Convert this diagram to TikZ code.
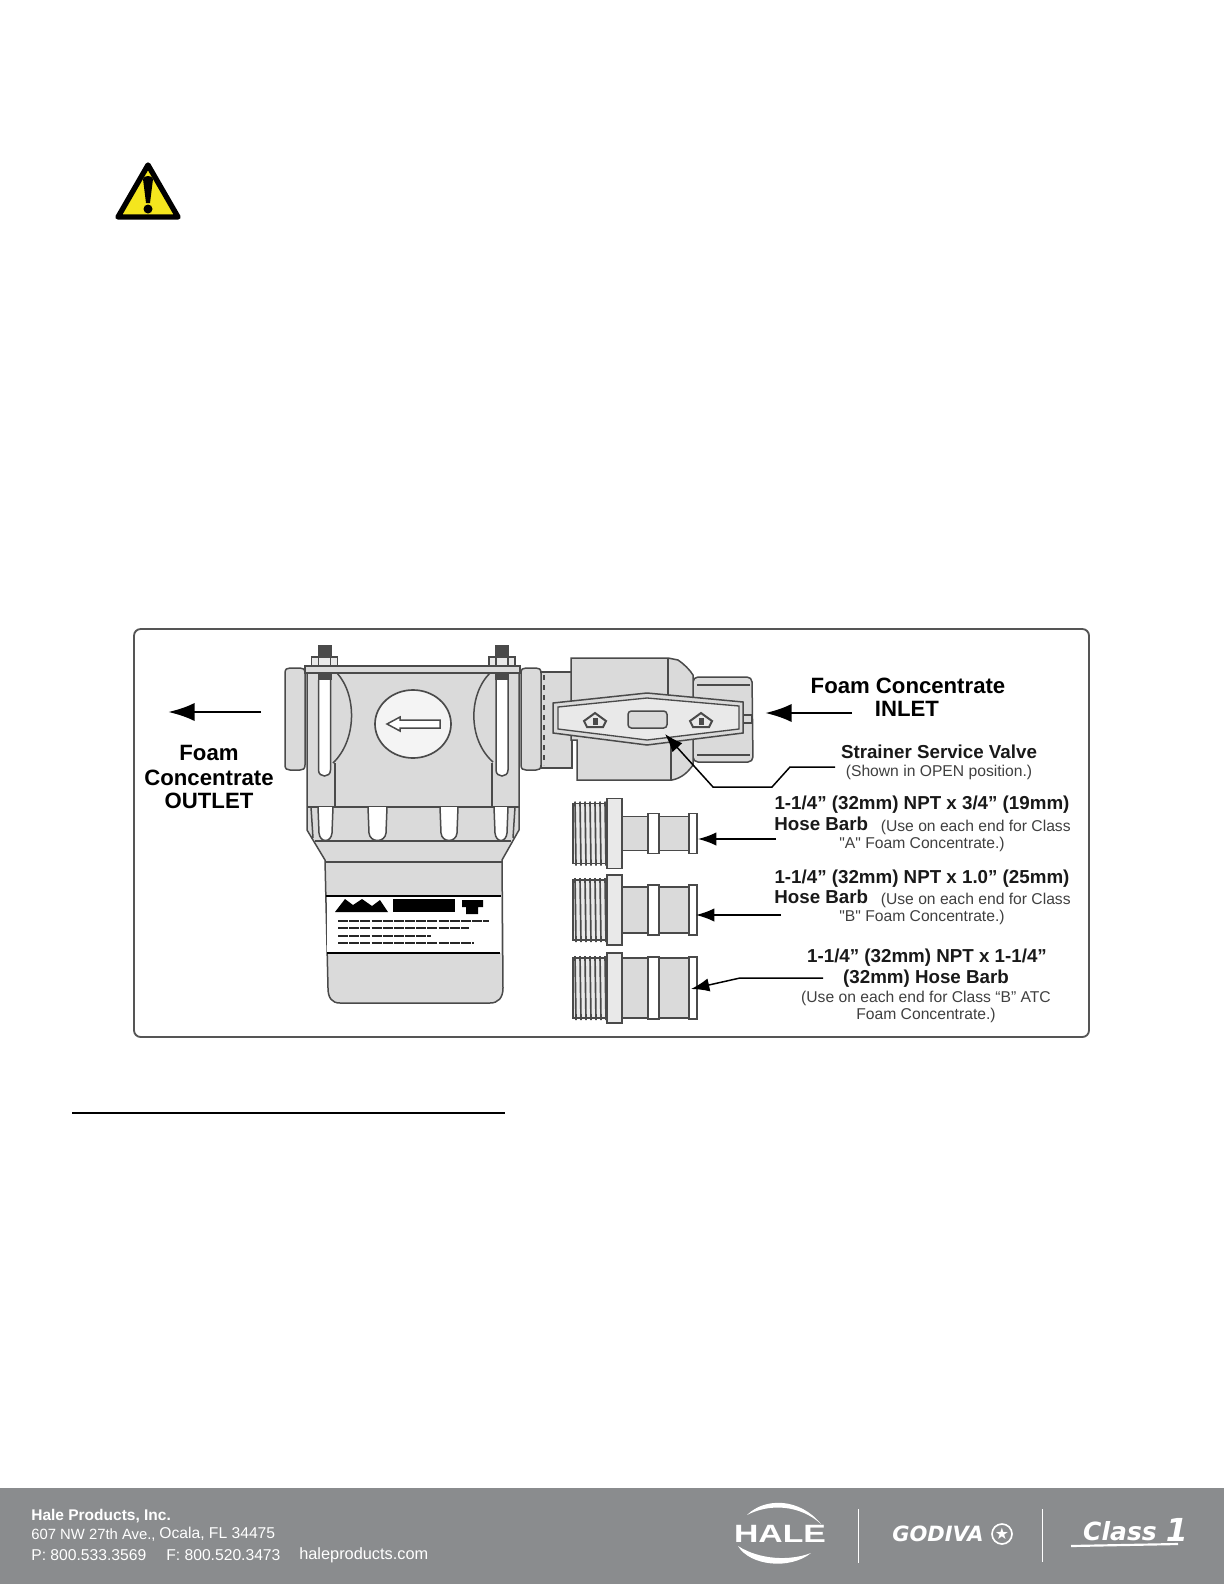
\documentclass[tikz,border=0pt]{standalone}
\usepackage{fontspec}
\setmainfont[Ligatures=TeXOff]{Liberation Sans}
\newfontfamily\logofont{DejaVu Sans}
\usepackage{tikz}
\usetikzlibrary{arrows.meta,positioning}
\definecolor{PumpGray}{HTML}{DADADA}
\definecolor{PumpLine}{HTML}{4A4A4A}
\definecolor{HandleGray}{HTML}{E9E9E9}
\definecolor{Frame}{HTML}{555555}
\definecolor{Footer}{HTML}{8A8C8E}
\definecolor{Warn}{HTML}{F4E61E}
\tikzset{
  part/.style={draw=PumpLine, line width=0.9pt, fill=PumpGray},
  cutout/.style={draw=PumpLine, line width=0.9pt, fill=white},
  headline/.style={font=\bfseries\fontsize{13.3}{15}\selectfont, text=black, inner sep=0pt},
  sizeline/.style={font=\bfseries\fontsize{11.25}{13}\selectfont, text=black!90, inner sep=0pt},
  usenote/.style={font=\fontsize{9.4}{11}\selectfont, text=black!75, inner sep=0pt},
  footname/.style={font=\bfseries\fontsize{9.3}{10}\selectfont, text=white, inner sep=0pt, anchor=west},
  footline/.style={font=\fontsize{9.4}{10}\selectfont, text=white, inner sep=0pt, anchor=west},
  bigarrow/.style={-{Latex[length=16pt,width=11pt]}, line width=1.7pt, draw=black},
  barbarrow/.style={-{Latex[length=11pt,width=8pt]}, line width=0.9pt, draw=black}
}
\begin{document}
\begin{tikzpicture}[x=0.6pt,y=-0.6pt]
  \useasboundingbox (0,0) rectangle (1224,1584);
  \fill[white] (0,0) rectangle (1224,1584);

  \draw[Frame, line width=1.1pt, rounded corners=4pt, fill=white] (134,629) rectangle (1089,1037);
  \draw[black, line width=0.8pt] (72,1113) -- (505,1113);

  \draw[black, line width=3.2pt, line join=round, fill=Warn] (148,165) -- (118,217) -- (178,217) -- cycle;
  \fill[black] (143,179) .. controls (144,175) and (152,175) .. (153,179) -- (150,203) -- (146,203) -- cycle;
  \fill[black] (148,209) circle (4.5);

  \fill[Footer] (0,1488) rectangle (1224,1584);
  \node[footname] (company) at (31,1516) {Hale Products, Inc.};
  \node[footline, font=\fontsize{8.9}{10}\selectfont] (street) at (31,1535) {607 NW 27th Ave.,};
  \node[footline] (city) at (159,1534) {Ocala, FL 34475};
  \node[footline] (phone) at (31,1555) {P: 800.533.3569};
  \node[footline] (fax) at (166,1555) {F: 800.520.3473};
  \node[footline, font=\fontsize{9.8}{10}\selectfont] (web) at (299,1555) {haleproducts.com};
  \node[font=\bfseries\fontsize{15}{15}\selectfont, text=white, xscale=1.35, inner sep=0pt] (hale) at (780,1534) {HALE};
  \fill[white] (747,1515) .. controls (765,1497) and (800,1498) .. (821,1524) .. controls (800,1505) and (770,1503) .. (747,1515) -- cycle;
  \fill[white] (738,1546) .. controls (750,1566) and (790,1570) .. (811,1553) .. controls (790,1561) and (760,1560) .. (738,1546) -- cycle;
  \draw[white, line width=0.5pt] (858,1509) -- (858,1563);
  \draw[white, line width=0.5pt] (1042,1509) -- (1042,1562);
  \node[font=\logofont\bfseries\itshape\fontsize{12.6}{15}\selectfont, text=white, inner sep=0pt] (godiva) at (938,1534) {GODIVA};
  \draw[white, line width=1pt] (1002,1534) circle (10);
  \node[font=\logofont\fontsize{9.5}{11}\selectfont, text=white, inner sep=0pt] (godivastar) at (1002,1534) {★};
  \node[font=\logofont\bfseries\itshape\fontsize{15}{17}\selectfont, text=white, inner sep=0pt] (classone) at (1120,1531) {Class};
  \node[font=\logofont\bfseries\itshape\fontsize{19}{20}\selectfont, text=white, inner sep=0pt] (classnum) at (1177,1530) {1};
  \draw[white, line width=1.3pt] (1071,1546) -- (1178,1544);

  \draw[part] (541,672) rectangle (572,768);
  \draw[PumpLine, line width=0.7pt, dashed] (544,675) -- (544,765);
  \draw[part, rounded corners=3pt] (693,677) -- (752,677) -- (753,762) -- (693,762) -- cycle;
  \draw[PumpLine, line width=0.7pt] (697,685) -- (750,685) (697,755) -- (750,755);
  \draw[part] (571,658) -- (668,658) -- (678,660) .. controls (684,664) and (690,670) .. (693,675) -- (693,765) .. controls (688,772) and (682,778) .. (672,780) -- (577,780) -- (577,740) -- (571,740) -- cycle;
  \draw[PumpLine, line width=0.9pt] (668,658) -- (668,700) (671,745) -- (671,780);
  \draw[part] (743,715) rectangle (752,723);

  \draw[part] (553,703) -- (647,693) -- (743,702) -- (743,733) -- (647,745) -- (553,733) -- cycle;
  \draw[draw=PumpLine, line width=0.8pt, fill=HandleGray] (558,707) -- (647,698) -- (739,706) -- (739,729) -- (647,740) -- (558,729) -- cycle;
  \draw[part, rounded corners=2pt] (628,711) rectangle (667,728);
  \foreach \markx in {595,701} {
    \draw[draw=PumpLine, line width=1.2pt, fill=HandleGray] (\markx-11,721) -- (\markx,713) -- (\markx+11,721) -- (\markx+8,727) -- (\markx-8,727) -- cycle;
    \fill[PumpLine] (\markx-2,718) rectangle (\markx+3,725);
  }

  \draw[part] (285,673) .. controls (285,669) and (287,668) .. (290,668) -- (300,668) .. controls (303,668) and (305,669) .. (305,673) -- (305,765) .. controls (305,769) and (303,770) .. (300,770) -- (290,770) .. controls (287,770) and (285,769) .. (285,765) -- cycle;
  \draw[part] (521,673) .. controls (521,669) and (523,668) .. (526,668) -- (536,668) .. controls (539,668) and (541,669) .. (541,673) -- (541,765) .. controls (541,769) and (539,770) .. (536,770) -- (526,770) .. controls (523,770) and (521,769) .. (521,765) -- cycle;
  \draw[part] (307,673) -- (519,673) -- (519,830) -- (502,860) -- (503,988) .. controls (503,998) and (498,1003) .. (490,1003) -- (340,1003) .. controls (332,1003) and (328,998) .. (328,988) -- (325,860) -- (307,830) -- cycle;
  \draw[part] (305,666) rectangle (520,673);
  \draw[PumpLine, line width=0.9pt] (337,673) .. controls (357,695) and (357,740) .. (333,763);
  \draw[PumpLine, line width=0.9pt] (490,673) .. controls (468,695) and (468,740) .. (493,762);
  \draw[PumpLine, line width=0.9pt] (335,763) -- (335,807) (492,763) -- (492,807);
  \draw[PumpLine, line width=0.9pt] (311,807) -- (313,838) (515,807) -- (513,838);
  \draw[PumpLine, line width=0.9pt] (307,807) -- (519,807) (315,841) -- (511,841) (325,862) -- (502,862);

  \foreach \slotl/\slotr in {318/333,368/387,440/458,494/508} {
    \draw[cutout] (\slotl,807) -- (\slotl+1,833) .. controls (\slotl+2,843) and (\slotr-2,843) .. (\slotr-1,833) -- (\slotr,807);
  }
  \foreach \boltx in {324.5,502} {
    \fill[PumpLine] (\boltx-7,645) rectangle (\boltx+7,657);
    \draw[part, fill=HandleGray] (\boltx-13,657) rectangle (\boltx+13,666);
    \draw[PumpLine, line width=0.7pt] (\boltx-6,657) -- (\boltx-6,666) (\boltx+6,657) -- (\boltx+6,666);
    \fill[PumpLine] (\boltx-7,673) rectangle (\boltx+7,680);
    \draw[cutout] (\boltx-6,680) -- (\boltx-6,770) .. controls (\boltx-6,778) and (\boltx+6,778) .. (\boltx+6,770) -- (\boltx+6,680);
  }
  \draw[PumpLine, line width=1pt, fill=HandleGray!50] (413,724) ellipse [x radius=38, y radius=34];
  \draw[PumpLine, line width=0.9pt, fill=white] (440,720) -- (400,720) -- (400,717) -- (387,724) -- (400,731) -- (400,728) -- (440,728) -- cycle;

  \fill[white] (327,896) rectangle (501,953);
  \draw[black, line width=1.2pt] (326,896) -- (501,896) (327,953) -- (500,953);
  \fill[black] (335,912) -- (345,899) -- (353,905) -- (362,899) -- (372,906) -- (380,900) -- (388,912) -- cycle;
  \fill[black] (393,899) rectangle (455,912);
  \fill[black] (462,900) rectangle (483,907) (466,907) rectangle (478,914);
  \draw[black!85, line width=1.4pt, dash pattern=on 6pt off 0.7pt] (338,921) -- (489,921) (338,928) -- (469,928) (338,936) -- (431,936) (338,943) -- (474,943);

  \foreach \barbname/\barby/\shafth/\ringh in {barba/833.5/17/20,barbb/910/23/25,barbc/988/30/31} {
    \draw[part, fill=HandleGray] (573,\barby-30) rectangle (608,\barby+30);
    \foreach \threadx in {575,580,...,605} {
      \draw[PumpLine, line width=1pt] (\threadx,\barby-32) -- (\threadx+1,\barby+32);
    }
    \draw[part, fill=HandleGray] (607,\barby-35) rectangle (622,\barby+35);
    \draw[part] (622,\barby-\shafth) rectangle (689,\barby+\shafth);
    \draw[part, fill=white] (648,\barby-\ringh) rectangle (659,\barby+\ringh);
    \draw[part, fill=white] (689,\barby-\ringh) rectangle (697,\barby+\ringh);
  }

  \node[headline] (inlet1) at (908,686) {Foam Concentrate};
  \node[headline] (inlet2) at (907,709) {INLET};
  \node[headline] (outlet1) at (209,753) {Foam};
  \node[headline] (outlet2) at (209,778) {Concentrate};
  \node[headline] (outlet3) at (209,801) {OUTLET};
  \node[sizeline] (valve1) at (939,752) {Strainer Service Valve};
  \node[usenote] (valve2) at (939,772) {(Shown in OPEN position.)};
  \node[sizeline] (barbatitle) at (922,805) {1-1/4” (32mm) NPT x 3/4” (19mm)};
  \node[sizeline, anchor=west] (barbahose) at (774,824) {Hose Barb};
  \node[usenote, anchor=east] (barbanote) at (1071,827) {(Use on each end for Class};
  \node[usenote] (barbaclass) at (922,844) {"A" Foam Concentrate.)};
  \node[sizeline] (barbbtitle) at (922,879) {1-1/4” (32mm) NPT x 1.0” (25mm)};
  \node[sizeline, anchor=west] (barbbhose) at (774,897) {Hose Barb};
  \node[usenote, anchor=east] (barbbnote) at (1071,900) {(Use on each end for Class};
  \node[usenote] (barbbclass) at (922,917) {"B" Foam Concentrate.)};
  \node[sizeline] (barbctitle) at (927,958) {1-1/4” (32mm) NPT x 1-1/4”};
  \node[sizeline] (barbchose) at (926,979) {(32mm) Hose Barb};
  \node[usenote] (barbcnote) at (926,998) {(Use on each end for Class “B” ATC};
  \node[usenote] (barbcclass) at (926,1015) {Foam Concentrate.)};

  \coordinate (outlettail) at (261,712);
  \coordinate (outlettip) at (168,712);
  \coordinate (inlettail) at (852,713);
  \coordinate (inlettip) at (765,713);
  \coordinate (valvetail) at (835,767);
  \coordinate (valvetip) at (665,734);
  \coordinate (atail) at (776,839);
  \coordinate (atip) at (698,839);
  \coordinate (btail) at (781,915);
  \coordinate (btip) at (696,915);
  \coordinate (ctail) at (823,978);
  \coordinate (ctip) at (691,989);
  \draw[bigarrow] (outlettail) -- (outlettip);
  \draw[bigarrow] (inlettail) -- (inlettip);
  \draw[barbarrow] (valvetail) -- (790,767) -- (772,787) -- (713,787) -- (valvetip);
  \draw[barbarrow] (atail) -- (atip);
  \draw[barbarrow] (btail) -- (btip);
  \draw[barbarrow] (ctail) -- (740,978) -- (ctip);
\end{tikzpicture}
\end{document}
